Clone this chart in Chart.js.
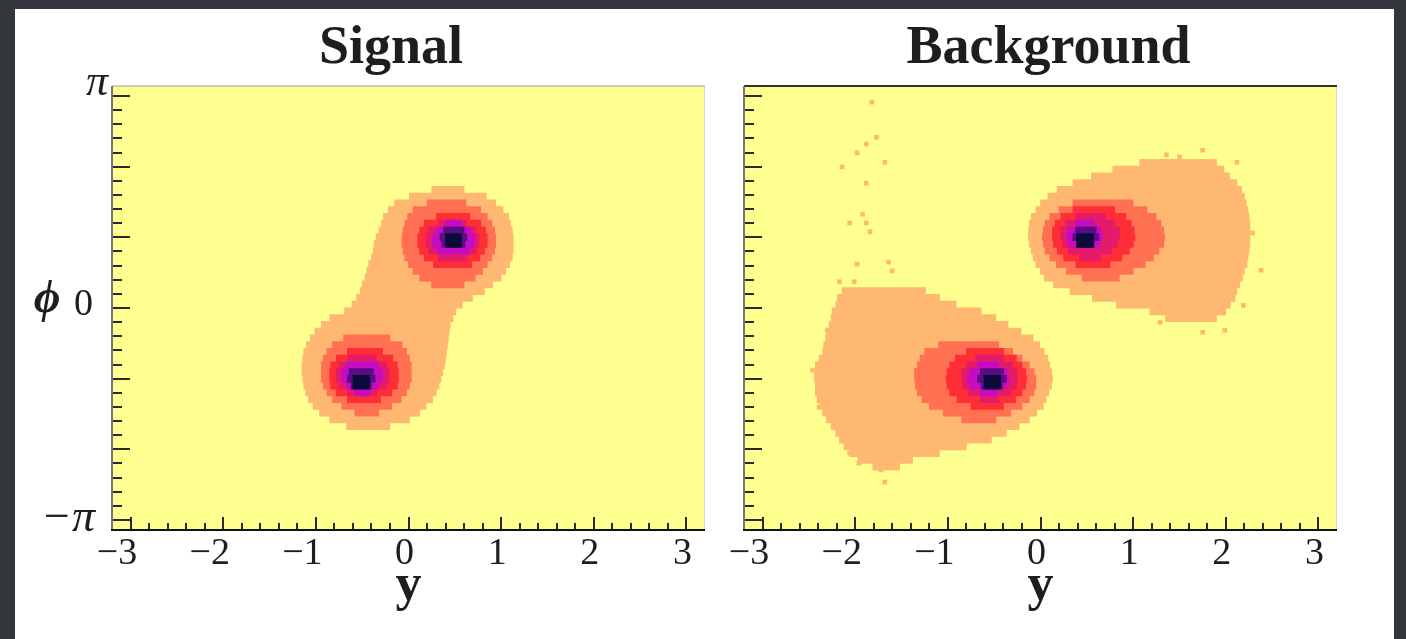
<!DOCTYPE html>
<html>
<head>
<meta charset="utf-8">
<script src="https://cdn.jsdelivr.net/npm/chart.js@4.4.0/dist/chart.umd.min.js"></script>
<style>
  html, body { margin: 0; padding: 0; }
  body { background: #33373b; width: 1406px; height: 639px; overflow: hidden; position: relative; }
  #sheet { position: absolute; left: 15px; top: 9px; width: 1379px; height: 630px; background: #fff; }
  canvas { position: absolute; top: 9px; }
</style>
</head>
<body>
<div id="sheet"></div>
<canvas id="sig" width="710" height="630" style="left:15px"></canvas>
<canvas id="bkg" width="669" height="630" style="left:725px"></canvas>
<script>
(function(){
	"use strict";

	// contour colours, outermost first
	const levelColors = ['#feb872', '#ff7152', '#ff2d35', '#e41a6a', '#c60cc0', '#5a0c86', '#0b0a3a'];
	const yellow = '#ffff90';
	const ink = '#1e1e1e';
	const serif = "'Liberation Serif', 'DejaVu Serif', serif";

	const xTickVals   = [-3, -2, -1, 0, 1, 2, 3];
	const xTickLabels = ['\u22123', '\u22122', '\u22121', '0', '1', '2', '3'];
	const phiTickVals   = [-Math.PI, 0, Math.PI];
	const phiTickLabels = ['\u2212\u03c0', '0', '\u03c0'];

	// each row: [phi, y from, y to]
	const sigL1 = [
		[1.75,0.25,0.60],[1.65,0.01,0.84],[1.55,-0.15,0.94],[1.45,-0.22,1.02],[1.35,-0.27,1.08],[1.25,-0.29,1.10],
		[1.15,-0.32,1.12],[1.05,-0.35,1.13],[0.95,-0.37,1.13],[0.85,-0.38,1.13],[0.75,-0.40,1.12],[0.65,-0.43,1.09],
		[0.55,-0.45,1.05],[0.45,-0.47,1.00],[0.35,-0.50,0.91],[0.25,-0.52,0.82],[0.15,-0.56,0.69],[0.05,-0.61,0.58],
		[-0.05,-0.69,0.51],[-0.15,-0.85,0.48],[-0.25,-0.94,0.45],[-0.35,-1.01,0.44],[-0.45,-1.06,0.43],[-0.55,-1.10,0.42],
		[-0.65,-1.13,0.41],[-0.75,-1.14,0.40],[-0.85,-1.15,0.39],[-0.95,-1.15,0.37],[-1.05,-1.14,0.35],[-1.15,-1.13,0.33],
		[-1.25,-1.11,0.30],[-1.35,-1.08,0.26],[-1.45,-1.03,0.19],[-1.55,-0.96,0.12],[-1.65,-0.85,0.01],[-1.75,-0.67,-0.20]
	];
	const sigL2 = [
		[1.55,0.20,0.62],[1.45,0.05,0.78],[1.35,-0.01,0.85],[1.25,-0.04,0.90],[1.15,-0.06,0.93],[1.05,-0.07,0.94],
		[0.95,-0.07,0.94],[0.85,-0.06,0.93],[0.75,-0.04,0.90],[0.65,0.00,0.85],[0.55,0.05,0.80],[0.45,0.12,0.72],[0.35,0.25,0.60],
		[-0.45,-0.70,-0.20],[-0.55,-0.82,-0.07],[-0.65,-0.88,-0.02],[-0.75,-0.92,0.01],[-0.85,-0.94,0.03],[-0.95,-0.94,0.03],
		[-1.05,-0.94,0.03],[-1.15,-0.92,0.01],[-1.25,-0.88,-0.02],[-1.35,-0.82,-0.08],[-1.45,-0.72,-0.18],[-1.55,-0.58,-0.32]
	];
	const sigL3 = [
		[1.35,0.30,0.66],[1.25,0.17,0.78],[1.15,0.12,0.83],[1.05,0.10,0.85],[0.95,0.10,0.85],[0.85,0.12,0.82],[0.75,0.17,0.77],[0.65,0.27,0.68],
		[-0.65,-0.66,-0.28],[-0.75,-0.78,-0.17],[-0.85,-0.84,-0.12],[-0.95,-0.85,-0.11],[-1.05,-0.85,-0.11],[-1.15,-0.84,-0.12],[-1.25,-0.78,-0.18],[-1.35,-0.66,-0.30]
	];
	const sigL4 = [
		[1.25,0.33,0.62],[1.15,0.22,0.72],[1.05,0.19,0.76],[0.95,0.19,0.76],[0.85,0.22,0.73],[0.75,0.32,0.63],
		[-0.75,-0.65,-0.35],[-0.85,-0.75,-0.24],[-0.95,-0.78,-0.21],[-1.05,-0.78,-0.21],[-1.15,-0.75,-0.24],[-1.25,-0.66,-0.34]
	];
	const sigL5 = [
		[1.25,0.40,0.57],[1.15,0.30,0.67],[1.05,0.26,0.71],[0.95,0.26,0.71],[0.85,0.31,0.66],
		[-0.85,-0.68,-0.32],[-0.95,-0.72,-0.28],[-1.05,-0.72,-0.28],[-1.15,-0.67,-0.33],[-1.25,-0.58,-0.42]
	];
	const sigL6 = [
		[1.15,0.38,0.60],[1.05,0.34,0.63],[0.95,0.36,0.61],
		[-0.95,-0.64,-0.38],[-1.05,-0.66,-0.36],[-1.15,-0.62,-0.40]
	];
	const sigL7 = [
		[1.05,0.40,0.57],[0.95,0.40,0.57],
		[-1.05,-0.60,-0.42],[-1.15,-0.60,-0.42]
	];

	const bkgL1 = [
		// upper blob
		[2.15,1.07,1.90],[2.05,0.78,1.98],[1.95,0.55,2.04],[1.85,0.35,2.12],[1.75,0.18,2.17],[1.65,0.08,2.20],
		[1.55,0.00,2.22],[1.45,-0.05,2.24],[1.35,-0.10,2.25],[1.25,-0.12,2.26],[1.15,-0.13,2.26],[1.05,-0.13,2.26],
		[0.95,-0.12,2.26],[0.85,-0.10,2.25],[0.75,-0.08,2.24],[0.65,-0.05,2.23],[0.55,0.00,2.20],[0.45,0.04,2.18],
		[0.35,0.14,2.15],[0.25,0.32,2.12],[0.15,0.56,2.10],[0.05,0.82,2.05],[-0.05,1.18,2.00],[-0.15,1.35,1.90],
		// lower blob
		[0.25,-2.14,-1.24],[0.15,-2.19,-1.09],[0.05,-2.21,-0.91],[-0.05,-2.25,-0.64],[-0.15,-2.26,-0.48],[-0.25,-2.28,-0.35],
		[-0.35,-2.31,-0.21],[-0.45,-2.32,-0.08],[-0.55,-2.34,-0.01],[-0.65,-2.35,0.04],[-0.75,-2.39,0.08],[-0.85,-2.43,0.10],
		[-0.95,-2.44,0.12],[-1.05,-2.44,0.13],[-1.15,-2.43,0.12],[-1.25,-2.43,0.09],[-1.35,-2.41,0.06],[-1.45,-2.39,0.03],
		[-1.55,-2.35,-0.04],[-1.65,-2.31,-0.12],[-1.75,-2.26,-0.23],[-1.85,-2.21,-0.37],[-1.95,-2.17,-0.53],[-2.05,-2.12,-0.80],
		[-2.15,-2.06,-1.09],[-2.25,-1.97,-1.38],[-2.35,-1.81,-1.52]
	];
	const bkgL2 = [
		[1.55,0.35,1.00],[1.45,0.20,1.15],[1.35,0.10,1.25],[1.25,0.05,1.30],[1.15,0.03,1.33],[1.05,0.02,1.34],
		[0.95,0.03,1.33],[0.85,0.05,1.28],[0.75,0.10,1.22],[0.65,0.17,1.13],[0.55,0.28,1.00],[0.45,0.45,0.85],
		[-0.55,-1.10,-0.45],[-0.65,-1.25,-0.30],[-0.75,-1.30,-0.20],[-0.85,-1.33,-0.12],[-0.95,-1.36,-0.07],[-1.05,-1.36,-0.05],
		[-1.15,-1.35,-0.05],[-1.25,-1.33,-0.07],[-1.35,-1.28,-0.12],[-1.45,-1.20,-0.20],[-1.55,-1.05,-0.32],[-1.65,-0.85,-0.48]
	];
	const bkgL3 = [
		[1.45,0.35,0.80],[1.35,0.22,0.92],[1.25,0.16,0.98],[1.15,0.13,1.01],[1.05,0.13,1.02],[0.95,0.14,1.00],
		[0.85,0.18,0.96],[0.75,0.25,0.88],[0.65,0.38,0.75],
		[-0.65,-0.80,-0.40],[-0.75,-0.92,-0.26],[-0.85,-0.98,-0.20],[-0.95,-1.01,-0.16],[-1.05,-1.02,-0.15],
		[-1.15,-1.01,-0.16],[-1.25,-0.98,-0.20],[-1.35,-0.90,-0.27],[-1.45,-0.75,-0.40]
	];
	const bkgL4 = [
		[1.35,0.38,0.70],[1.25,0.27,0.80],[1.15,0.22,0.85],[1.05,0.22,0.85],[0.95,0.24,0.83],[0.85,0.30,0.77],[0.75,0.42,0.65],
		[-0.75,-0.70,-0.40],[-0.85,-0.80,-0.30],[-0.95,-0.85,-0.26],[-1.05,-0.85,-0.25],[-1.15,-0.84,-0.26],[-1.25,-0.78,-0.32],[-1.35,-0.65,-0.45]
	];
	const bkgL5 = [
		[1.25,0.38,0.58],[1.15,0.30,0.65],[1.05,0.28,0.67],[0.95,0.31,0.64],
		[-0.85,-0.68,-0.45],[-0.95,-0.77,-0.36],[-1.05,-0.79,-0.34],[-1.15,-0.76,-0.37],[-1.25,-0.65,-0.47]
	];
	const bkgL6 = [
		[1.15,0.38,0.60],[1.05,0.35,0.63],[0.95,0.39,0.58],
		[-0.95,-0.65,-0.40],[-1.05,-0.68,-0.37],[-1.15,-0.64,-0.41]
	];
	const bkgL7 = [
		[1.05,0.39,0.57],[0.95,0.39,0.57],
		[-1.05,-0.61,-0.43],[-1.15,-0.61,-0.43]
	];
	// lone filled bins: [y, phi]
	const bkgDots = [
		[-1.82,3.05],[-1.77,2.53],[-1.88,2.43],[-1.98,2.30],[-1.68,2.16],[-2.14,2.09],[-1.88,1.85],[-1.92,1.39],
		[-2.06,1.26],[-1.88,1.26],[-1.84,1.13],[-1.98,0.65],[-1.64,0.68],[-1.60,0.55],[-2.17,0.39],[-2.01,0.39],
		[2.29,1.11],[2.38,0.56],[1.75,2.34],[2.12,2.16],[1.99,-0.33],[1.75,-0.36],[1.29,-0.21],[2.19,0.04],
		[1.36,2.27],[1.50,2.24],[-2.46,-0.92],[-2.39,-1.47],[-1.72,-2.40],[-1.68,-2.58],[-2.30,-0.33],[-2.17,0.12],
		[-2.26,-0.52],[-2.06,-2.15],[-1.96,-2.30]
	];

	function bandSets( levels, dots ) {
		var sets = levels.map(function ( rows, i ) {
			return {
				type: 'bar',
				indexAxis: 'y',
				data: rows.map(function ( r ) { return { y: r[0], x: [r[1], r[2]] }; }),
				backgroundColor: levelColors[i],
				borderWidth: 0,
				barThickness: 7,
				grouped: false,
				order: 10 - i
			};
		});
		if ( dots ) {
			sets.push({
				type: 'scatter',
				data: dots.map(function ( d ) { return { x: d[0], y: d[1] }; }),
				pointStyle: 'rect',
				pointRadius: 3.3,
				pointHoverRadius: 3.3,
				pointBackgroundColor: levelColors[0],
				pointBorderWidth: 0,
				order: 11
			});
		}
		return sets;
	}

	// yellow plot face, inward ticks and frame
	const frame = {
		id: 'frame',
		beforeDatasetsDraw: (chart) => {
			const {ctx, chartArea: a} = chart;
			ctx.save();
			ctx.fillStyle = yellow;
			ctx.fillRect(a.left, a.top, a.right - a.left, a.bottom - a.top);
			ctx.restore();
		},
		afterDatasetsDraw: (chart, args, opts) => {
			const {ctx, chartArea: a} = chart;
			const x = chart.scales.x, y = chart.scales.y;
			ctx.save();
			ctx.lineWidth = 2;
			ctx.strokeStyle = '#2a2a2a';
			ctx.beginPath();
			for ( let k = -15; k <= 15; k++ ) {
				const px = Math.round(x.getPixelForValue(k / 5));
				const len = k % 5 === 0 ? 13 : 7;
				ctx.moveTo(px, a.bottom);
				ctx.lineTo(px, a.bottom - len);
			}
			for ( let k = -15; k <= 15; k++ ) {
				const py = Math.round(y.getPixelForValue(k * Math.PI / 15));
				const len = k % 5 === 0 ? 18 : 10;
				ctx.moveTo(a.left, py);
				ctx.lineTo(a.left + len, py);
			}
			ctx.stroke();

			ctx.lineWidth = 1;
			ctx.strokeStyle = '#d6d6d6';
			ctx.beginPath();
			ctx.moveTo(a.right - 0.5, a.top);
			ctx.lineTo(a.right - 0.5, a.bottom);
			ctx.stroke();

			ctx.lineWidth = opts.topWidth;
			ctx.strokeStyle = opts.topColor;
			ctx.beginPath();
			ctx.moveTo(a.left, a.top);
			ctx.lineTo(a.right, a.top);
			ctx.stroke();

			ctx.lineWidth = 2;
			ctx.strokeStyle = '#777';
			ctx.beginPath();
			ctx.moveTo(a.left, a.top);
			ctx.lineTo(a.left, a.bottom);
			ctx.stroke();

			ctx.strokeStyle = '#111';
			ctx.beginPath();
			ctx.moveTo(a.left - 1, a.bottom);
			ctx.lineTo(a.right, a.bottom);
			ctx.stroke();
			ctx.restore();
		}
	};

	// phi labels are placed by hand, like the original (pi sits above its tick)
	const phiText = {
		id: 'phiText',
		afterDraw: (chart) => {
			const {ctx, chartArea: a} = chart;
			const y = chart.scales.y;
			const spots = [[-17, -1, 'italic 46px '], [-19, -3, '38px '], [-4, -13, 'italic 44px ']];
			ctx.save();
			ctx.fillStyle = ink;
			ctx.textAlign = 'right';
			ctx.textBaseline = 'middle';
			phiTickVals.forEach(function ( v, i ) {
				ctx.font = spots[i][2] + serif;
				ctx.fillText(phiTickLabels[i], a.left + spots[i][0], y.getPixelForValue(v) + spots[i][1]);
			});
			ctx.textAlign = 'center';
			ctx.font = 'italic bold 46px ' + serif;
			ctx.fillText('\u03d5', a.left - 65, y.getPixelForValue(0) - 8);
			ctx.restore();
		}
	};

	function makeChart( id, o ) {
		const scales = {
			x: {
				type: 'linear', min: -3.2, max: 3.2, offset: false,
				afterBuildTicks: (s) => { s.ticks = xTickVals.map((v) => ({ value: v })); },
				afterFit: (s) => { s.height = 109; },
				grid: { display: false, drawTicks: false },
				border: { display: false },
				ticks: {
					autoSkip: false, maxRotation: 0, padding: 5, labelOffset: -4, color: ink,
					font: { family: serif, size: 38, lineHeight: 1 },
					callback: (v, i) => xTickLabels[i] + (v < 0 ? '\u2002' : '')
				},
				title: {
					display: true, text: 'y', color: ink,
					font: { family: serif, size: 52, weight: 'bold', lineHeight: 1 },
					padding: { top: 0, bottom: 26 }
				}
			},
			y: {
				type: 'linear', min: -3.29, max: 3.29, offset: false,
				afterBuildTicks: (s) => { s.ticks = phiTickVals.map((v) => ({ value: v })); },
				afterFit: (s) => { s.width = o.axisWidth; },
				grid: { display: false, drawTicks: false },
				border: { display: false },
				ticks: { display: false }
			}
		};
		if ( o.rightGap ) {
			// empty box on the right so the title centre matches the original
			scales.yr = {
				type: 'linear', position: 'right',
				afterFit: (s) => { s.width = o.rightGap; },
				grid: { display: false, drawTicks: false },
				border: { display: false },
				ticks: { display: false }
			};
		}
		return new Chart(document.getElementById(id), {
			type: 'bar',
			data: { datasets: bandSets(o.levels, o.dots) },
			options: {
				responsive: false,
				animation: false,
				events: [],
				indexAxis: 'y',
				layout: { padding: { left: o.padLeft, right: o.padRight, top: 0, bottom: 0 } },
				plugins: {
					legend: { display: false },
					tooltip: { enabled: false },
					title: {
						display: true, text: o.title, color: ink,
						font: { family: serif, size: 54, weight: 'bold', lineHeight: 1 },
						padding: { top: 13, bottom: 10 }
					},
					frame: { topColor: o.topColor, topWidth: o.topWidth }
				},
				scales: scales
			},
			plugins: o.plugins
		});
	}

	makeChart('sig', {
		title: 'Signal',
		levels: [sigL1, sigL2, sigL3, sigL4, sigL5, sigL6, sigL7],
		padLeft: 62, padRight: 20, axisWidth: 35,
		topColor: '#9a9a9a', topWidth: 1,
		plugins: [frame, phiText]
	});

	makeChart('bkg', {
		title: 'Background',
		levels: [bkgL1, bkgL2, bkgL3, bkgL4, bkgL5, bkgL6, bkgL7],
		dots: bkgDots,
		padLeft: 0, padRight: 22, axisWidth: 19, rightGap: 35,
		topColor: '#333', topWidth: 2,
		plugins: [frame]
	});
})();
</script>
</body>
</html>
